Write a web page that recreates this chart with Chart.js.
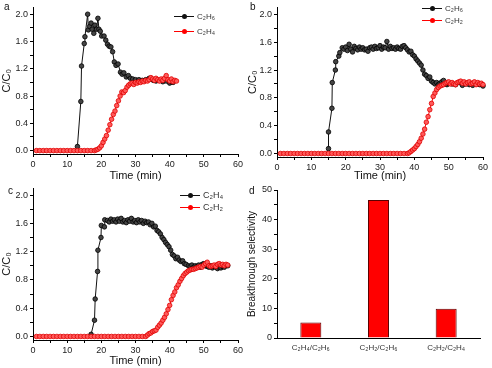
<!DOCTYPE html>
<html>
<head>
<meta charset="utf-8">
<script src="https://cdn.jsdelivr.net/npm/chart.js@4.4.1/dist/chart.umd.min.js"></script>
<style>
  body { margin: 0; background: #fff; font-family: "Liberation Sans", Arial, sans-serif; }
  #page { position: relative; width: 492px; height: 368px; overflow: hidden; }
  .box { position: absolute; }
  .tag { position: absolute; font-size: 10px; line-height: 10px; color: #111; }
  .legend { position: absolute; color: #333; }
  .legend div { white-space: nowrap; }
  .sym { display: inline-block; position: relative; width: 20px; height: 1px; vertical-align: middle; margin-right: 3px; }
  .sym::after { content: ''; position: absolute; left: 8px; top: -2px; width: 5px; height: 5px; border-radius: 50%; background: inherit; }
</style>
</head>
<body>
<div id="page">
  <canvas id="ca" class="box" width="246" height="183" style="left:0;top:0"></canvas>
  <canvas id="cb" class="box" width="246" height="183" style="left:246px;top:0"></canvas>
  <canvas id="cc" class="box" width="246" height="188" style="left:0;top:180px"></canvas>
  <canvas id="cd" class="box" width="246" height="188" style="left:246px;top:180px"></canvas>
</div>
<script>
// tick values
const timeTicks = [0, 10, 20, 30, 40, 50, 60];
const timeMinor = [5, 15, 25, 35, 45, 55];
const concTicks = [0.0, 0.4, 0.8, 1.2, 1.6, 2.0];
const concMinor = [0.2, 0.6, 1.0, 1.4, 1.8];
const selTicks = [0, 10, 20, 30, 40, 50];
const selMinor = [5, 15, 25, 35, 45];

// panel a : [time (min), C/C0]
const aEthane = [[13,0.06],[14,0.72],[14.2,1.24],[15,1.57],[15.2,1.67],[16,2.00],[16.2,1.77],[16.6,1.82],[17,1.87],[17.3,1.78],
  [17.8,1.72],[18.1,1.84],[18.6,1.78],[19,1.94],[19.3,1.78],[19.7,1.75],[20.1,1.68],[20.8,1.68],[21.3,1.62],[21.8,1.56],
  [22.3,1.53],[22.8,1.52],[23.3,1.45],[23.8,1.30],[24.3,1.25],[24.9,1.27],[25.6,1.15],[26.1,1.12],[26.6,1.14],[27.3,1.08],
  [27.9,1.10],[28.5,1.06],[29.2,1.05],[30,1.04],[31,1.04],[32,1.03],[33,1.04],[34,1.06],[34.6,1.05],[35.2,1.03],
  [36,1.02],[37,1.03],[38,1.01],[39,1.02],[40,0.99],[40.5,1.01],[41,1.00]];
const aEthylene = [[1,0],[2,0],[3,0],[4,0],[5,0],[6,0],[7,0],[8,0],[9,0],[10,0],[11,0],[12,0],[13,0],[14,0],[15,0],[16,0],[17,0],[18,0],
  [18.5,0.01],[19,0.02],[19.5,0.04],[20,0.07],[20.5,0.12],[21,0.17],[21.5,0.22],[22,0.30],[22.5,0.38],[23,0.46],
  [23.5,0.53],[24,0.58],[24.5,0.66],[25,0.73],[25.5,0.80],[26,0.86],[26.5,0.85],[27,0.88],[27.5,0.93],[28,0.96],
  [28.5,0.98],[29,0.99],[29.5,0.97],[30,1.00],[30.5,0.99],[31,1.01],[31.5,1.00],[32,1.02],[32.5,1.01],[33,1.03],
  [33.5,1.02],[34,1.04],[34.5,1.07],[35,1.05],[35.5,1.03],[36,1.06],[36.5,1.04],[37,1.02],[37.5,1.05],[38,1.03],
  [38.5,1.06],[39,1.10],[39.5,1.04],[40,1.02],[40.5,1.05],[41,1.01],[41.5,1.03],[42,1.02]];

// panel b
const bEthane = [[15,0.07],[15,0.31],[16,0.65],[16.1,1.02],[17,1.20],[17.1,1.32],[18,1.40],[18.3,1.45],[19,1.52],[19.5,1.50],
  [20,1.53],[20.5,1.48],[21,1.57],[21.5,1.50],[22,1.46],[22.5,1.54],[23,1.51],[23.5,1.49],[24,1.53],[24.5,1.50],
  [25,1.52],[25.5,1.49],[26,1.50],[26.5,1.47],[27,1.52],[27.5,1.53],[28,1.50],[28.5,1.54],[29,1.51],[29.5,1.52],
  [30,1.55],[30.5,1.50],[31,1.53],[31.5,1.52],[32,1.61],[32.5,1.50],[33,1.54],[33.5,1.51],[34,1.52],[34.5,1.50],
  [35,1.53],[35.5,1.51],[36,1.50],[36.5,1.54],[37,1.55],[37.5,1.52],[38,1.49],[38.5,1.46],[39,1.47],[39.5,1.42],
  [40,1.40],[40.5,1.36],[41,1.33],[41.5,1.30],[42,1.27],[42.5,1.20],[43,1.14],[43.5,1.12],[44,1.08],[44.5,1.10],
  [45,1.04],[45.5,1.02],[46,1.00],[46.5,1.02],[47,0.99],[47.5,1.01],[48,1.03],[48.5,1.05],[49,1.00],[49.5,0.99],
  [50,1.01],[51,1.00],[52,0.99],[53,1.02],[54,0.98],[55,1.00],[56,0.99],[57,0.98],[58,1.00],[59,0.99],[60,0.97]];
const bAcetylene = [[1,0],[2,0],[3,0],[4,0],[5,0],[6,0],[7,0],[8,0],[9,0],[10,0],[11,0],[12,0],[13,0],[14,0],[15,0],[16,0],[17,0],[18,0],[19,0],
  [20,0],[21,0],[22,0],[23,0],[24,0],[25,0],[26,0],[27,0],[28,0],[29,0],[30,0],[31,0],[32,0],[33,0],[34,0],[35,0],[36,0],[37,0],[38,0],
  [38.5,0.01],[39,0.03],[39.5,0.05],[40,0.07],[40.5,0.10],[41,0.13],[41.5,0.17],[42,0.22],[42.5,0.28],[43,0.35],
  [43.5,0.45],[44,0.53],[44.5,0.63],[45,0.72],[45.5,0.82],[46,0.87],[46.5,0.92],[47,0.95],[47.5,0.97],[48,0.98],
  [48.5,0.99],[49,1.01],[49.5,1.02],[50,1.03],[50.5,1.00],[51,1.02],[51.5,1.00],[52,0.99],[52.5,1.02],[53,1.03],
  [53.5,1.04],[54,1.01],[54.5,1.03],[55,1.00],[55.5,1.02],[56,1.03],[56.5,1.00],[57,1.01],[57.5,1.03],[58,0.99],
  [58.5,1.02],[59,1.00],[59.5,1.01],[60,0.99]];

// panel c
const cEthylene = [[17,0.03],[18,0.23],[18.2,0.53],[18.9,0.92],[19,1.22],[19.9,1.40],[20,1.57],[20.9,1.55],[21,1.65],[21.8,1.64],
  [22.3,1.62],[22.8,1.66],[23.3,1.63],[23.8,1.65],[24.3,1.62],[24.8,1.66],[25.3,1.63],[25.8,1.67],[26.3,1.62],[26.8,1.64],
  [27.3,1.61],[27.8,1.65],[28.3,1.63],[28.8,1.67],[29.3,1.62],[29.8,1.64],[30.3,1.61],[30.8,1.65],[31.3,1.62],[31.8,1.64],
  [32.3,1.60],[32.8,1.63],[33.3,1.61],[33.8,1.62],[34.3,1.58],[34.8,1.60],[35.3,1.55],[35.8,1.56],[36.3,1.50],[36.8,1.48],
  [37.3,1.45],[37.8,1.40],[38.3,1.37],[38.8,1.33],[39.3,1.30],[39.8,1.27],[40.3,1.22],[40.8,1.16],[41.3,1.14],[41.8,1.10],
  [42.3,1.12],[42.8,1.08],[43.3,1.06],[43.8,1.07],[44.3,1.03],[44.8,1.02],[45.5,1.00],[46,0.99],[46.5,1.01],[47,0.98],
  [47.5,1.00],[48,0.99],[48.5,1.01],[49,0.98],[49.5,1.02],[50,1.03],[50.5,1.00],[51,0.99],[51.5,0.98],[52,1.00],
  [52.5,0.97],[53,0.99],[53.5,0.98],[54,0.96],[54.5,0.98],[55,0.97],[55.5,0.99],[56,0.98],[57,1.00]];
const cAcetylene = [[1,0],[2,0],[3,0],[4,0],[5,0],[6,0],[7,0],[8,0],[9,0],[10,0],[11,0],[12,0],[13,0],[14,0],[15,0],[16,0],[17,0],
  [18,0],[19,0],[20,0],[21,0],[22,0],[23,0],[24,0],[25,0],[26,0],[27,0],[28,0],[29,0],[30,0],[31,0],[32,0],[33,0],
  [33.5,0.02],[34,0.04],[34.5,0.05],[35,0.07],[35.5,0.08],[36,0.09],[36.5,0.13],[37,0.16],[37.5,0.19],[38,0.23],
  [38.5,0.27],[39,0.32],[39.5,0.38],[40,0.44],[40.5,0.52],[41,0.58],[41.5,0.63],[42,0.69],[42.5,0.73],[43,0.78],
  [43.5,0.82],[44,0.86],[44.5,0.89],[45,0.91],[45.5,0.93],[46,0.94],[46.5,0.95],[47,0.95],[47.5,0.96],[48,0.97],
  [48.5,0.98],[49,0.99],[49.5,0.98],[50,1.01],[50.5,1.03],[51,1.05],[51.5,1.00],[52,0.99],[52.5,1.00],[53,1.01],
  [53.5,0.99],[54,1.02],[54.5,1.03],[55,1.01],[55.5,1.02],[56,1.00],[56.5,1.02],[57,1.01]];

// panel d
const pairLabels = ['C₂H₄/C₂H₆', 'C₂H₂/C₂H₆', 'C₂H₂/C₂H₄'];
const selectivity = [5.2, 46.6, 9.9];

const BLACK = { line: '#111', fill: '#444', edge: '#000' };
const RED = { line: '#ff0000', fill: '#ff5a5a', edge: '#e00000' };

Chart.defaults.font.family = '"Liberation Sans", Arial, sans-serif';
Chart.defaults.color = '#222';

function axisBase(major, minor, fmt) {
  return {
    border: { display: true, color: '#000', width: 1 },
    grid: { drawOnChartArea: false, drawTicks: true, tickLength: 3, color: '#000' },
    ticks: {
      autoSkip: false, maxRotation: 0, padding: 2, color: '#222', font: { size: 9 },
      callback: v => major.includes(v) ? fmt(v) : ''
    },
    afterBuildTicks: scale => {
      scale.ticks = major.concat(minor).sort((p, q) => p - q).map(v => ({ value: v }));
    }
  };
}

function series(name, pts, c, order) {
  return {
    label: name,
    data: pts.map(p => ({ x: p[0], y: p[1] })),
    borderColor: c.line, borderWidth: 1,
    pointRadius: 2.3, pointBorderWidth: 0.8,
    pointBackgroundColor: c.fill, pointBorderColor: c.edge,
    tension: 0, clip: false, order: order
  };
}

function breakthrough(id, sets, pad, yW, xH) {
  new Chart(document.getElementById(id), {
    type: 'line',
    data: { datasets: sets },
    options: {
      responsive: false, animation: false, events: [],
      layout: { padding: pad },
      plugins: { legend: { display: false }, tooltip: { enabled: false } },
      scales: {
        x: Object.assign(axisBase(timeTicks, timeMinor, v => String(v)), {
          type: 'linear', min: 0, max: 60,
          title: { display: true, text: 'Time (min)', color: '#111', font: { size: 11 }, padding: 0 },
          afterFit: s => { s.height = xH; }
        }),
        y: Object.assign(axisBase(concTicks, concMinor, v => v.toFixed(1)), {
          min: -0.05, max: 2.1,
          title: { display: true, text: 'C/C₀', color: '#111', font: { size: 11 }, padding: 0 },
          afterFit: s => { s.width = yW; }
        })
      }
    }
  });
}

breakthrough('ca', [series('C₂H₆', aEthane, BLACK, 1), series('C₂H₄', aEthylene, RED, 0)],
  { top: 4, right: 8, left: 0, bottom: 0 }, 33, 29);
breakthrough('cb', [series('C₂H₆', bEthane, BLACK, 1), series('C₂H₂', bAcetylene, RED, 0)],
  { top: 2, right: 9, left: 0, bottom: 0 }, 31, 26);
breakthrough('cc', [series('C₂H₄', cEthylene, BLACK, 1), series('C₂H₂', cAcetylene, RED, 0)],
  { top: 8, right: 8, left: 0, bottom: 0 }, 33, 28);

new Chart(document.getElementById('cd'), {
  type: 'bar',
  data: {
    labels: pairLabels,
    datasets: [{
      data: selectivity, backgroundColor: '#ff0000', borderColor: '#5a0000', borderWidth: 1,
      barPercentage: 0.31, categoryPercentage: 1
    }]
  },
  options: {
    responsive: false, animation: false, events: [],
    layout: { padding: { top: 10, right: 12, left: 0, bottom: 0 } },
    plugins: { legend: { display: false }, tooltip: { enabled: false } },
    scales: {
      x: {
        border: { display: true, color: '#000', width: 1 },
        grid: { display: false, drawTicks: false },
        ticks: { padding: 5, color: '#333', font: { size: 8 } },
        afterFit: s => { s.height = 30; }
      },
      y: Object.assign(axisBase(selTicks, selMinor, v => String(v)), {
        min: 0, max: 50,
        title: { display: true, text: 'Breakthrough selectivity', color: '#111', font: { size: 10 }, padding: 0 },
        afterFit: s => { s.width = 31; }
      })
    }
  }
});

// panel letters and legends
const page = document.getElementById('page');
[['a', 4, 2], ['b', 250, 2], ['c', 8, 186], ['d', 249, 186]].forEach(([t, x, y]) => {
  const el = document.createElement('div');
  el.className = 'tag';
  el.style.left = x + 'px';
  el.style.top = y + 'px';
  el.textContent = t;
  page.appendChild(el);
});

function legend(x, y, rowH, size, names) {
  const box = document.createElement('div');
  box.className = 'legend';
  box.style.left = x + 'px';
  box.style.top = y + 'px';
  box.style.fontSize = size + 'px';
  names.forEach((n, i) => {
    const row = document.createElement('div');
    row.style.height = rowH + 'px';
    row.style.lineHeight = rowH + 'px';
    const sym = document.createElement('span');
    sym.className = 'sym';
    sym.style.background = i === 0 ? '#111' : '#ff0000';
    row.appendChild(sym);
    row.appendChild(document.createTextNode(n));
    box.appendChild(row);
  });
  page.appendChild(box);
}
legend(174, 9, 15, 8, ['C₂H₆', 'C₂H₄']);
legend(422, 3, 12, 8, ['C₂H₆', 'C₂H₂']);
legend(180, 189, 12, 9, ['C₂H₄', 'C₂H₂']);
</script>
</body>
</html>
